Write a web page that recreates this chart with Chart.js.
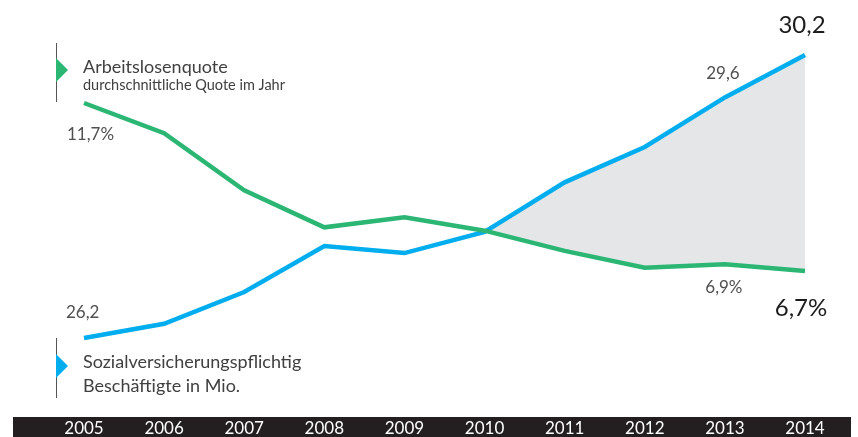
<!DOCTYPE html>
<html>
<head>
<meta charset="utf-8">
<script src="https://cdn.jsdelivr.net/npm/chart.js@4.4.1/dist/chart.umd.min.js"></script>
<style>
  html, body { margin: 0; padding: 0; background: #fff; }
  #wrap { width: 858px; height: 437px; position: relative; }
</style>
</head>
<body>
<div id="wrap"><canvas id="chart"></canvas></div>
<script>
  var years = ['2005', '2006', '2007', '2008', '2009', '2010', '2011', '2012', '2013', '2014'];
  // Arbeitslosenquote in %
  var quote = [11.7, 10.8, 9.1, 8.0, 8.3, 7.9, 7.3, 6.8, 6.9, 6.7];
  // sozialversicherungspflichtig Beschäftigte in Mio.
  var beschaeftigte = [26.2, 26.4, 26.85, 27.5, 27.4, 27.7, 28.4, 28.9, 29.6, 30.2];

  var GREEN = '#2bb673';
  var BLUE = '#00adef';
  var FONT = 'Lato, "Open Sans", sans-serif';

  function fmt(v, unit) {
    return v.toFixed(1).replace('.', ',') + (unit || '');
  }

  // value labels next to selected points
  var pointLabels = [
    { ds: 0, i: 0, dx: -17, dy: 37, align: 'left', big: false, unit: '%' },
    { ds: 0, i: 8, dx: -1, dy: 29, align: 'center', big: false, unit: '%' },
    { ds: 0, i: 9, dx: -4, dy: 45, align: 'center', big: true, unit: '%' },
    { ds: 1, i: 0, dx: -18, dy: -20, align: 'left', big: false, unit: '' },
    { ds: 1, i: 8, dx: -2, dy: -18, align: 'center', big: false, unit: '' },
    { ds: 1, i: 9, dx: -3, dy: -22, align: 'center', big: true, unit: '' }
  ];

  var decoPlugin = {
    id: 'deco',
    beforeDraw: function (chart) {
      var ctx = chart.ctx;
      ctx.save();
      // dark band behind the year axis
      ctx.fillStyle = '#231f20';
      ctx.fillRect(13, chart.chartArea.bottom, 838, chart.height - chart.chartArea.bottom);
      ctx.restore();
    },
    afterDraw: function (chart) {
      var ctx = chart.ctx;
      ctx.save();

      // legend markers
      function marker(y0, y1, tipY, color) {
        ctx.strokeStyle = '#555';
        ctx.lineWidth = 1;
        ctx.beginPath();
        ctx.moveTo(56.5, y0);
        ctx.lineTo(56.5, y1);
        ctx.stroke();
        ctx.fillStyle = color;
        ctx.beginPath();
        ctx.moveTo(56, tipY - 12);
        ctx.lineTo(68, tipY);
        ctx.lineTo(56, tipY + 12);
        ctx.closePath();
        ctx.fill();
      }
      marker(43, 102, 70, GREEN);
      marker(338, 398, 366, BLUE);

      ctx.textBaseline = 'alphabetic';
      ctx.textAlign = 'left';
      ctx.fillStyle = '#404040';
      ctx.font = '18px ' + FONT;
      ctx.fillText('Arbeitslosenquote', 83, 73);
      ctx.font = '14.5px ' + FONT;
      ctx.fillText('durchschnittliche Quote im Jahr', 83, 90);
      ctx.font = '18px ' + FONT;
      ctx.fillText('Sozialversicherungspflichtig', 83, 368);
      ctx.fillText('Beschäftigte in Mio.', 83, 392);

      // point value labels
      pointLabels.forEach(function (p) {
        var el = chart.getDatasetMeta(p.ds).data[p.i];
        var v = chart.data.datasets[p.ds].data[p.i];
        ctx.textAlign = p.align;
        ctx.fillStyle = p.big ? '#1c1c1c' : '#505050';
        ctx.font = (p.big ? '24px ' : '17px ') + FONT;
        ctx.fillText(fmt(v, p.unit), el.x + p.dx, el.y + p.dy);
      });

      ctx.restore();
    }
  };

  new Chart(document.getElementById('chart'), {
    type: 'line',
    data: {
      labels: years,
      datasets: [
        {
          label: 'Arbeitslosenquote',
          data: quote,
          yAxisID: 'yQuote',
          borderColor: GREEN,
          borderWidth: 4.5,
          pointRadius: 0,
          tension: 0,
          fill: false,
          clip: false
        },
        {
          label: 'Beschäftigte in Mio.',
          data: beschaeftigte,
          yAxisID: 'yBesch',
          borderColor: BLUE,
          borderWidth: 4.5,
          pointRadius: 0,
          tension: 0,
          fill: { target: 0, above: '#e5e6e8', below: 'rgba(0,0,0,0)' },
          clip: false
        }
      ]
    },
    options: {
      responsive: true,
      maintainAspectRatio: false,
      animation: false,
      layout: { padding: { left: 84, right: 53, top: 0, bottom: 0 } },
      plugins: {
        legend: { display: false },
        tooltip: { enabled: false }
      },
      scales: {
        x: {
          grid: { display: false, drawTicks: false },
          border: { display: false },
          ticks: {
            color: '#ffffff',
            font: { family: FONT, size: 17 },
            padding: 1,
            maxRotation: 0,
            autoSkip: false
          },
          afterFit: function (scale) { scale.height = 20; }
        },
        yQuote: {
          display: false,
          min: 2.355,
          max: 14.765
        },
        yBesch: {
          display: false,
          min: 25.083,
          max: 30.977
        }
      }
    },
    plugins: [decoPlugin]
  });
</script>
</body>
</html>
